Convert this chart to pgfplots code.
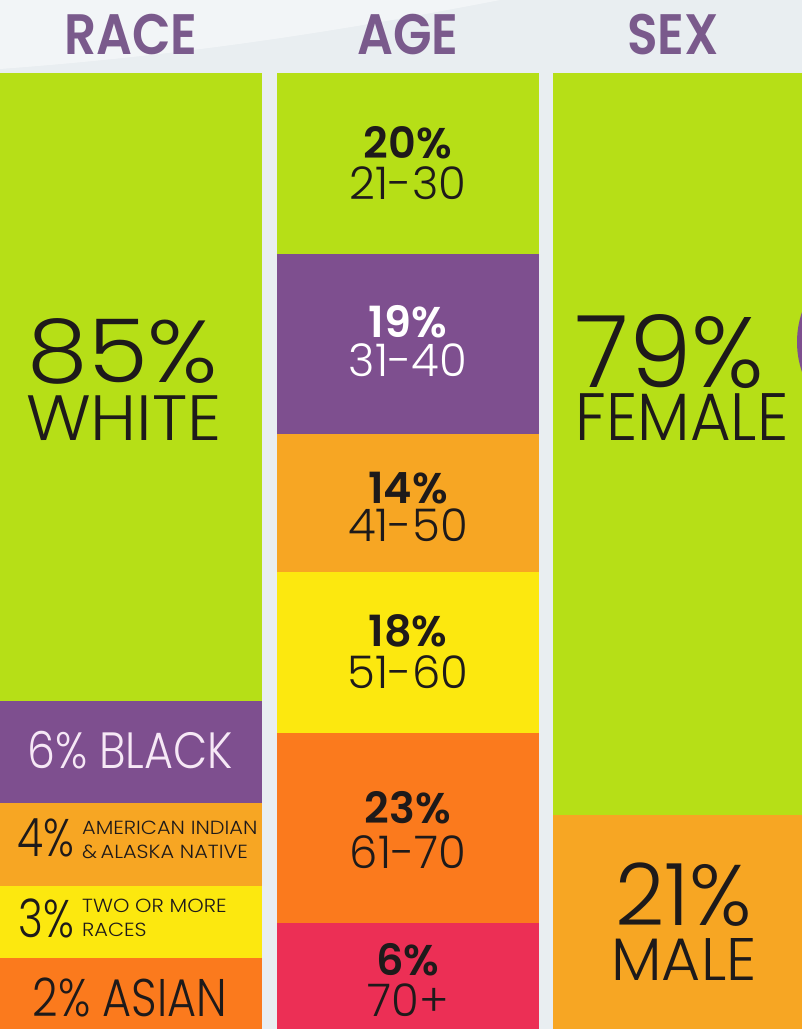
\documentclass[border=0pt]{standalone}
\usepackage{fontspec}
\usepackage{graphicx}
\usepackage{pgfplots}
\pgfplotsset{compat=1.18}
\IfFontExistsTF{Poppins Light}{\setmainfont{Poppins Light}}{\setmainfont{Poppins}}
\IfFontExistsTF{Poppins SemiBold}{\newfontfamily\semib{Poppins SemiBold}}{\newfontfamily\semib{Poppins}[UprightFont=* Bold]}
\IfFontExistsTF{Poppins SemiBold}{\newfontfamily\titlef{Poppins SemiBold}}{\newfontfamily\titlef{Poppins}[UprightFont=* Bold]}
\definecolor{bg}{HTML}{E9EEF1}
\definecolor{cgreen}{HTML}{B6DF17}
\definecolor{cpurple}{HTML}{7E4F8F}
\definecolor{clorange}{HTML}{F7A623}
\definecolor{cyellow}{HTML}{FCE80F}
\definecolor{corange}{HTML}{FB7A1D}
\definecolor{cpink}{HTML}{EC2F55}
\definecolor{ctitle}{HTML}{7A5A8C}
\definecolor{ctext}{HTML}{1E1A1A}
\definecolor{cwtext}{HTML}{F6E8F6}
\newcommand\tx[3]{\scalebox{#1}[1]{\fontsize{#2}{#2}\selectfont #3}}
\begin{document}
\begin{tikzpicture}
\useasboundingbox (0,0) rectangle (802pt,1029pt);
\fill[bg] (0,0) rectangle (802pt,1029pt);
\fill[white,opacity=0.45] (0,1029pt) -- (0,960pt) .. controls (200pt,975pt) and (350pt,1000pt) .. (500pt,1029pt) -- cycle;
\begin{axis}[
  at={(0,0)}, anchor=origin,
  width=802pt, height=1029pt, scale only axis,
  xmin=0, xmax=802, ymin=0, ymax=1029,
  hide axis, clip=true,
  ybar stacked, bar width=262, bar shift=0pt,
  every axis plot/.append style={draw=none},
]
% RACE (bottom to top): Asian, Two or more, Am. Indian, Black, White
\addplot[fill=corange]  coordinates {(131,71) (408,0) (684,0)};
\addplot[fill=cyellow]  coordinates {(131,72) (408,0) (684,0)};
\addplot[fill=clorange] coordinates {(131,83) (408,0) (684,0)};
\addplot[fill=cpurple]  coordinates {(131,102) (408,0) (684,0)};
\addplot[fill=cgreen]   coordinates {(131,628) (408,0) (684,0)};
% AGE (bottom to top): 70+, 61-70, 51-60, 41-50, 31-40, 21-30
\addplot[fill=cpink]    coordinates {(131,0) (408,106) (684,0)};
\addplot[fill=corange]  coordinates {(131,0) (408,190) (684,0)};
\addplot[fill=cyellow]  coordinates {(131,0) (408,161) (684,0)};
\addplot[fill=clorange] coordinates {(131,0) (408,138) (684,0)};
\addplot[fill=cpurple]  coordinates {(131,0) (408,180) (684,0)};
\addplot[fill=cgreen]   coordinates {(131,0) (408,181) (684,0)};
% SEX (bottom to top): Male, Female
\addplot[fill=clorange] coordinates {(131,0) (408,0) (684,214)};
\addplot[fill=cgreen]   coordinates {(131,0) (408,0) (684,742)};

\coordinate (circ) at (axis cs:889,687);
\coordinate (tR) at (axis cs:131,994);
\coordinate (tA) at (axis cs:408,994);
\coordinate (tS) at (axis cs:673,994);
\coordinate (r1) at (axis cs:123,678);
\coordinate (r2) at (axis cs:124,611);
\coordinate (r3) at (axis cs:130,279);
\coordinate (r4) at (axis cs:46,191);
\coordinate (r5) at (axis cs:82,201);
\coordinate (r6) at (axis cs:82,177);
\coordinate (r7) at (axis cs:46,111);
\coordinate (r8) at (axis cs:82,123);
\coordinate (r9) at (axis cs:82,99);
\coordinate (r10) at (axis cs:130,32);
\coordinate (a1) at (axis cs:408,886);
\coordinate (a2) at (axis cs:408,846);
\coordinate (a3) at (axis cs:408,707);
\coordinate (a4) at (axis cs:408,669);
\coordinate (a5) at (axis cs:408,541);
\coordinate (a6) at (axis cs:408,504);
\coordinate (a7) at (axis cs:408,398);
\coordinate (a8) at (axis cs:408,357);
\coordinate (a9) at (axis cs:408,221);
\coordinate (a10) at (axis cs:408,177);
\coordinate (a11) at (axis cs:408,69);
\coordinate (a12) at (axis cs:408,29);
\coordinate (s1) at (axis cs:670,677);
\coordinate (s2) at (axis cs:682,612);
\coordinate (s3) at (axis cs:684,134);
\coordinate (s4) at (axis cs:684,69);
\end{axis}
\begin{scope}
\clip (0,0) rectangle (802pt,1029pt);
\fill[cpurple] (circ) circle[radius=92pt];
\end{scope}
% titles
\node[ctitle,inner sep=0] at (tR) {\titlef\tx{0.88}{57}{RACE}};
\node[ctitle,inner sep=0] at (tA) {\titlef\tx{0.88}{57}{AGE}};
\node[ctitle,inner sep=0] at (tS) {\titlef\tx{0.88}{57}{SEX}};
% race
\node[ctext,inner sep=0] at (r1) {\tx{1.1}{88}{85\%}};
\node[ctext,inner sep=0] at (r2) {\tx{1.06}{64}{WHITE}};
\node[cwtext,inner sep=0] at (r3) {\tx{0.87}{51}{6\% BLACK}};
\node[ctext,inner sep=0] at (r4) {\tx{0.8}{53}{4\%}};
\node[ctext,inner sep=0,anchor=west] at (r5) {\tx{1.1}{19}{AMERICAN INDIAN}};
\node[ctext,inner sep=0,anchor=west] at (r6) {\tx{1.1}{19}{\&\,ALASKA NATIVE}};
\node[ctext,inner sep=0] at (r7) {\tx{0.8}{53}{3\%}};
\node[ctext,inner sep=0,anchor=west] at (r8) {\tx{1.1}{19}{TWO OR MORE}};
\node[ctext,inner sep=0,anchor=west] at (r9) {\tx{1.1}{19}{RACES}};
\node[ctext,inner sep=0] at (r10) {\tx{0.84}{53}{2\% ASIAN}};
% age
\node[ctext,inner sep=0] at (a1) {\semib\tx{1.0}{43}{20\%}};
\node[ctext,inner sep=0] at (a2) {\tx{1.0}{45}{21-30}};
\node[white,inner sep=0] at (a3) {\semib\tx{1.0}{43}{19\%}};
\node[white,inner sep=0] at (a4) {\tx{1.0}{45}{31-40}};
\node[ctext,inner sep=0] at (a5) {\semib\tx{1.0}{43}{14\%}};
\node[ctext,inner sep=0] at (a6) {\tx{1.0}{45}{41-50}};
\node[ctext,inner sep=0] at (a7) {\semib\tx{1.0}{43}{18\%}};
\node[ctext,inner sep=0] at (a8) {\tx{1.0}{45}{51-60}};
\node[ctext,inner sep=0] at (a9) {\semib\tx{1.0}{43}{23\%}};
\node[ctext,inner sep=0] at (a10) {\tx{1.0}{45}{61-70}};
\node[ctext,inner sep=0] at (a11) {\semib\tx{1.0}{43}{6\%}};
\node[ctext,inner sep=0] at (a12) {\tx{1.0}{45}{70+}};
% sex
\node[ctext,inner sep=0] at (s1) {\tx{1.0}{100}{79\%}};
\node[ctext,inner sep=0] at (s2) {\tx{0.93}{67}{FEMALE}};
\node[ctext,inner sep=0] at (s3) {\tx{1.0}{86}{21\%}};
\node[ctext,inner sep=0] at (s4) {\tx{1.0}{60}{MALE}};
\end{tikzpicture}
\end{document}
